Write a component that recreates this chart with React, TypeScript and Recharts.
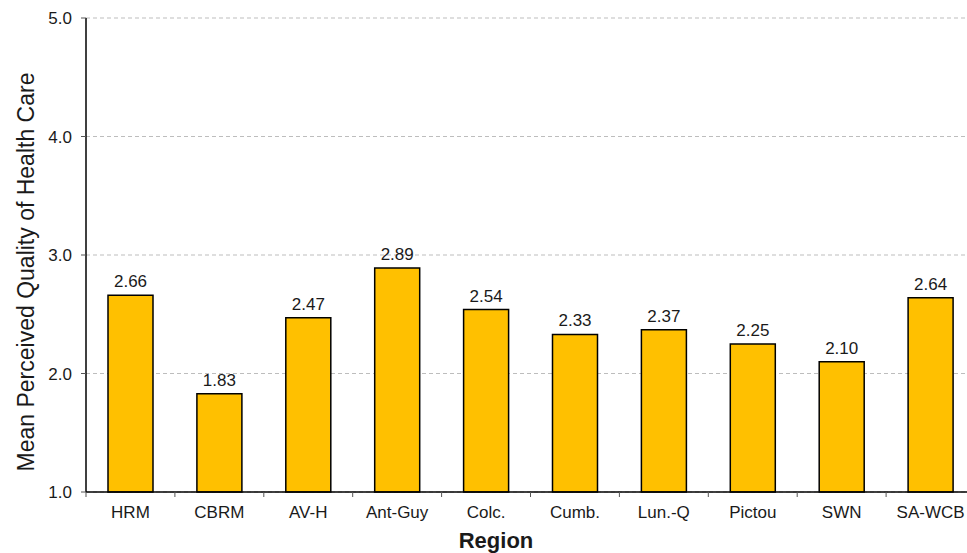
import React from 'react'
import {
  BarChart, Bar, XAxis, YAxis, CartesianGrid, LabelList, Label,
} from 'recharts'

const regions = ['HRM', 'CBRM', 'AV-H', 'Ant-Guy', 'Colc.', 'Cumb.', 'Lun.-Q', 'Pictou', 'SWN', 'SA-WCB']
const meanQuality = [2.66, 1.83, 2.47, 2.89, 2.54, 2.33, 2.37, 2.25, 2.10, 2.64]
const yTicks = [1, 2, 3, 4, 5]

const font = 'Arial, "Liberation Sans", sans-serif'
const LABEL_GAP = 14

// category label plus a small tick mark on the left edge of each band (like Excel)
function RegionTick(props: any) {
  const { x, y, payload, width, visibleTicksCount, index } = props
  const step = width / visibleTicksCount
  const axisY = y - LABEL_GAP
  const left = x - step / 2
  const right = x + step / 2
  return (
    <g>
      <line x1={left} x2={left} y1={axisY} y2={axisY + 5} stroke="#555" />
      {index === visibleTicksCount - 1 && (
        <line x1={right} x2={right} y1={axisY} y2={axisY + 5} stroke="#555" />
      )}
      <text
        x={x}
        y={y}
        dy="0.71em"
        textAnchor="middle"
        fontSize={17}
        fontFamily={font}
        fill="#1a1a1a"
      >
        {payload.value}
      </text>
    </g>
  )
}

export default function App() {
  const data = regions.map((r, i) => ({ region: r, value: meanQuality[i] }))

  return (
    <div style={{ position: 'absolute', left: 0, top: 0, fontFamily: font }}>
      <BarChart
        width={967}
        height={553}
        data={data}
        margin={{ top: 18, right: -8, bottom: 0, left: 0 }}
      >
        <CartesianGrid vertical={false} stroke="#bdbdbd" strokeDasharray="4 3" />
        <XAxis
          dataKey="region"
          height={61}
          tickLine={false}
          tickSize={0}
          tickMargin={LABEL_GAP}
          axisLine={{ stroke: '#000', strokeWidth: 1.5 }}
          tick={<RegionTick />}
          interval={0}
        >
          <Label
            content={() => (
              <text
                x={496}
                y={548}
                textAnchor="middle"
                fontSize={22}
                fontWeight="bold"
                fontFamily={font}
                fill="#1a1a1a"
              >
                Region
              </text>
            )}
          />
        </XAxis>
        <YAxis
          width={86}
          domain={[1, 5]}
          ticks={yTicks}
          tickFormatter={(v: number) => v.toFixed(1)}
          tickSize={5}
          tickMargin={9}
          tickLine={{ stroke: '#555' }}
          axisLine={{ stroke: '#000', strokeWidth: 1.5 }}
          tick={{ fontSize: 17, fill: '#1a1a1a', fontFamily: font }}
        >
          <Label
            content={() => (
              <text
                x={26}
                y={272}
                transform="rotate(-90 26 272)"
                textAnchor="middle"
                dominantBaseline="central"
                fontSize={23}
                fontFamily={font}
                fill="#1a1a1a"
              >
                Mean Perceived Quality of Health Care
              </text>
            )}
          />
        </YAxis>
        <Bar
          dataKey="value"
          fill="#FFC000"
          stroke="#000"
          strokeWidth={1.5}
          barSize={45}
          isAnimationActive={false}
        >
          <LabelList
            dataKey="value"
            position="top"
            offset={8}
            formatter={(v: any) => Number(v).toFixed(2)}
            style={{ fontSize: 17, fill: '#1a1a1a', fontFamily: font }}
          />
        </Bar>
      </BarChart>
    </div>
  )
}
